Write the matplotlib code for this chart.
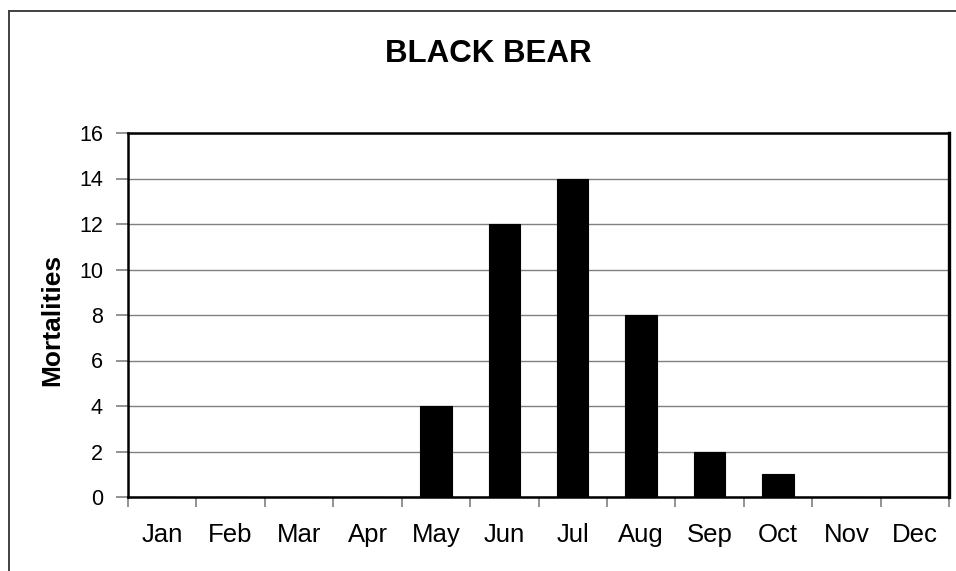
import matplotlib
matplotlib.use("Agg")
import matplotlib.pyplot as plt
from matplotlib.lines import Line2D

months = ["Jan", "Feb", "Mar", "Apr", "May", "Jun",
          "Jul", "Aug", "Sep", "Oct", "Nov", "Dec"]
mortalities = [0, 0, 0, 0, 4, 12, 14, 8, 2, 1, 0, 0]
y_ticks = [0, 2, 4, 6, 8, 10, 12, 14, 16]

plt.rcParams["font.family"] = ["Liberation Sans", "DejaVu Sans"]

W, H = 956, 571
fig = plt.figure(figsize=(W / 100, H / 100), dpi=100)
fig.patch.set_facecolor("white")

# outer chart frame (left and top edges visible)
fig.add_artist(Line2D([8.5 / W, 8.5 / W], [0, 1 - 10.5 / H],
                      transform=fig.transFigure, color="#404040", lw=1.4))
fig.add_artist(Line2D([8.5 / W, 1], [1 - 10.5 / H, 1 - 10.5 / H],
                      transform=fig.transFigure, color="#404040", lw=1.4))

left, right, top, bottom = 128, 949, 133, 497
ax = fig.add_axes([left / W, 1 - bottom / H, (right - left) / W, (bottom - top) / H])

x = list(range(len(months)))
ax.bar(x, mortalities, width=0.46, color="black", edgecolor="black",
       linewidth=0.8, zorder=3)

ax.set_xlim(-0.5, len(months) - 0.5)
ax.set_ylim(0, 16)
ax.set_yticks(y_ticks)
ax.set_yticklabels([str(v) for v in y_ticks], fontsize=15.5)
ax.yaxis.grid(True, color="#808080", linewidth=1.0, zorder=0)
ax.set_axisbelow(True)

# month boundaries carry the ticks, labels sit in the middle of each slot
ax.set_xticks([i - 0.5 for i in range(len(months) + 1)])
ax.set_xticklabels([])
ax.set_xticks(x, minor=True)
ax.set_xticklabels(months, minor=True, fontsize=18.5)
ax.tick_params(axis="x", which="major", direction="out", length=7,
               width=1.2, color="#808080")
ax.tick_params(axis="x", which="minor", length=0, pad=19)
ax.tick_params(axis="y", direction="out", length=9, width=1.2,
               color="#808080", pad=9)

for side in ["left", "bottom", "top", "right"]:
    ax.spines[side].set_color("black")
    ax.spines[side].set_linewidth(1.8)
ax.spines["right"].set_linewidth(2.4)

fig.text(488 / W, 1 - 62 / H, "BLACK BEAR", fontsize=22.5,
         fontweight="bold", ha="center", va="baseline")
fig.text(52 / W, 1 - 320 / H, "Mortalities", fontsize=19,
         fontweight="bold", rotation=90, ha="center", va="center")

fig.savefig("out.png", dpi=100, facecolor="white")
